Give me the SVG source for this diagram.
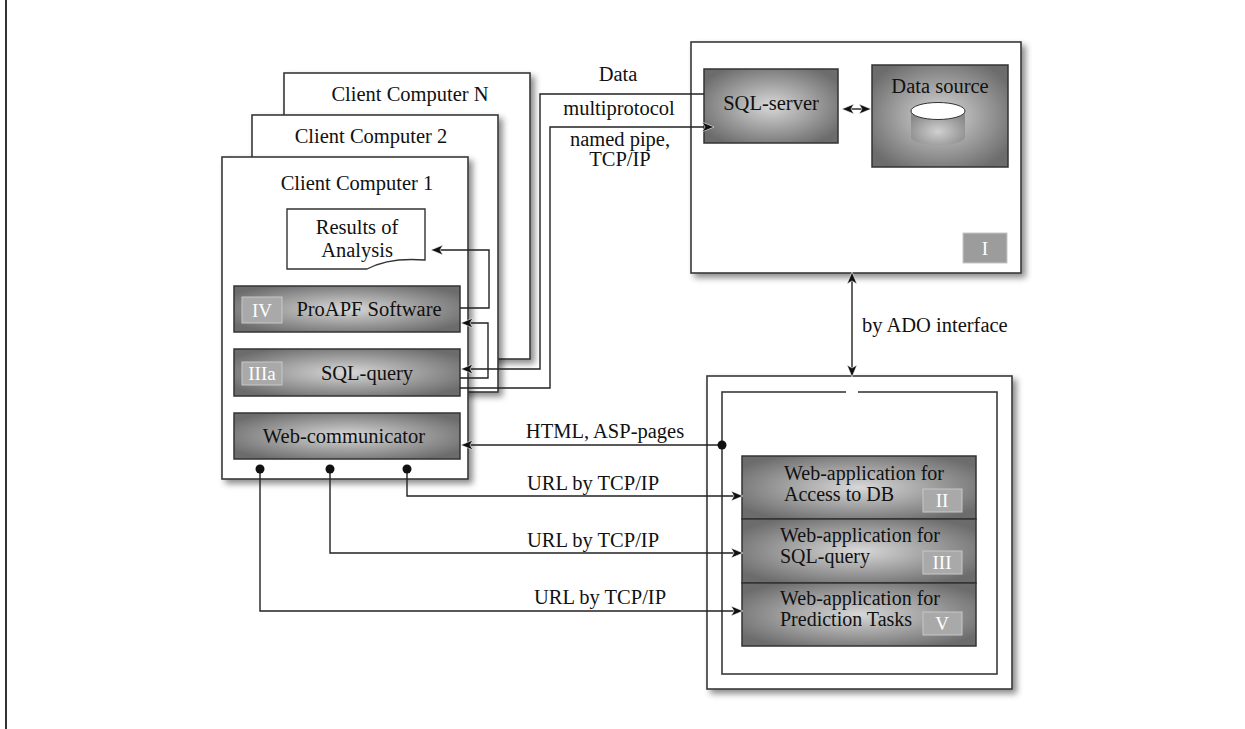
<svg xmlns="http://www.w3.org/2000/svg" width="1245" height="729" viewBox="0 0 1245 729">
<style>
text{font-family:"Liberation Serif","Times New Roman",serif;fill:#111;font-size:20.5px}
.c{text-anchor:middle}
.sm{font-size:20px}
.badgeT{fill:#fff;font-size:19px;text-anchor:middle}
.frame{fill:#fff;stroke:#3a3a3a;stroke-width:1.6}
.dark{fill:url(#rg);stroke:#333;stroke-width:1.5}
.badge{fill:#a9a9a9;stroke:#c8c8c8;stroke-width:1}
.ln{fill:none;stroke:#222;stroke-width:1.4}
.halo{fill:none;stroke:#fff;stroke-width:4}
</style>
<defs>
<radialGradient id="rg" cx="0.5" cy="0.5" r="0.6">
<stop offset="0" stop-color="#d8d8d8"/>
<stop offset="1" stop-color="#6c6c6c"/>
</radialGradient>
<radialGradient id="cyl" cx="0.5" cy="0.6" r="0.6">
<stop offset="0" stop-color="#d0d0d0"/>
<stop offset="1" stop-color="#8a8a8a"/>
</radialGradient>
<filter id="sh" x="-10%" y="-10%" width="130%" height="130%">
<feDropShadow dx="4" dy="4" stdDeviation="3" flood-color="#000" flood-opacity="0.45"/>
</filter>
<marker id="ah" viewBox="0 0 12 10" refX="11" refY="5" markerWidth="12" markerHeight="10" markerUnits="userSpaceOnUse" orient="auto-start-reverse">
<path d="M0,0 L12,5 L0,10 L3,5 Z" fill="#111" stroke="#fff" stroke-width="0.6"/>
</marker>
<marker id="dot" viewBox="0 0 10 10" refX="5" refY="5" markerWidth="10" markerHeight="10" markerUnits="userSpaceOnUse">
<circle cx="5" cy="5" r="4.5" fill="#111"/>
</marker>
</defs>
<rect width="1245" height="729" fill="#fff"/>
<line x1="6" y1="0" x2="6" y2="729" stroke="#333" stroke-width="2"/>

<g id="clientN">
<rect class="frame" x="284" y="73" width="246" height="286" filter="url(#sh)"/>
<text class="c" x="410" y="101">Client Computer N</text>
</g>
<g id="client2">
<rect class="frame" x="252" y="115" width="246" height="277" filter="url(#sh)"/>
<text class="c" x="371" y="143">Client Computer 2</text>
</g>
<g id="client1">
<rect class="frame" x="222" y="157" width="246" height="322" filter="url(#sh)"/>
<text class="c" x="357" y="190">Client Computer 1</text>
</g>
<g id="results">
<path d="M287,209 H425 V260 C400,258 380,262 367,269 H287 Z" fill="#fff" stroke="#333" stroke-width="1.4"/>
<text class="c" x="357" y="234">Results of</text>
<text class="c" x="357" y="257">Analysis</text>
</g>
<g id="proapf">
<rect class="dark" x="234" y="286" width="226" height="46"/>
<rect class="badge" x="242" y="297" width="40" height="26"/>
<text class="badgeT" x="262" y="317">IV</text>
<text class="c" x="369" y="316">ProAPF Software</text>
</g>
<g id="sqlquery">
<rect class="dark" x="234" y="349" width="226" height="47"/>
<rect class="badge" x="242" y="362" width="40" height="23"/>
<text class="badgeT" x="262" y="380">IIIa</text>
<text class="c" x="367" y="380">SQL-query</text>
</g>
<g id="webcomm">
<rect class="dark" x="234" y="413" width="226" height="46"/>
<text class="c" x="344" y="443">Web-communicator</text>
</g>

<g id="server">
<rect class="frame" x="691" y="42" width="330" height="231" filter="url(#sh)"/>
<rect class="badge" x="963" y="233" width="44" height="30" style="fill:#9c9c9c"/>
<text class="badgeT" x="985" y="255">I</text>
</g>
<g id="sqlserver">
<rect class="dark" x="704" y="69" width="134" height="74"/>
<text class="c" x="771" y="110">SQL-server</text>
</g>
<g id="datasource">
<rect class="dark" x="872" y="65" width="136" height="102"/>
<text class="c" x="940" y="93">Data source</text>
<path d="M911,111 V137 A27,8 0 0 0 965,137 V111 Z" fill="url(#cyl)"/>
<ellipse cx="938" cy="111" rx="27" ry="8.5" fill="#fff" stroke="#333" stroke-width="1"/>
</g>

<g id="webserver">
<rect class="frame" x="707" y="376" width="305" height="313" filter="url(#sh)"/>
<rect x="722" y="392" width="275" height="282" fill="none" stroke="#3a3a3a" stroke-width="1.6"/>
</g>
<g id="webapp1">
<rect class="dark" x="742" y="456" width="234" height="63"/>
<text class="sm" x="784" y="480">Web-application for</text>
<text class="sm" x="784" y="501">Access to DB</text>
<rect class="badge" x="923" y="489" width="39" height="23"/>
<text class="badgeT" x="942" y="507">II</text>
</g>
<g id="webapp2">
<rect class="dark" x="742" y="519" width="234" height="64"/>
<text class="sm" x="780" y="542">Web-application for</text>
<text class="sm" x="780" y="563">SQL-query</text>
<rect class="badge" x="923" y="551" width="39" height="23"/>
<text class="badgeT" x="942" y="569">III</text>
</g>
<g id="webapp3">
<rect class="dark" x="742" y="583" width="234" height="63"/>
<text class="sm" x="780" y="605">Web-application for</text>
<text class="sm" x="780" y="626">Prediction Tasks</text>
<rect class="badge" x="923" y="612" width="39" height="23"/>
<text class="badgeT" x="942" y="630">V</text>
</g>

<g id="connectors">
<path class="ln" d="M460,308 H489 V250 H432" marker-end="url(#ah)"/>
<path class="ln" d="M460,378 H488 V323 H462" marker-end="url(#ah)"/>
<path class="ln" d="M704,94 H540 V369 H462" marker-end="url(#ah)"/>
<path class="ln" d="M460,388 H550 V127 H713" marker-end="url(#ah)"/>
<path class="ln" d="M843,109 H870" marker-start="url(#ah)" marker-end="url(#ah)"/>
<path class="halo" d="M846,392 H858"/>
<path class="ln" d="M852,273 V376" marker-start="url(#ah)" marker-end="url(#ah)"/>
<path class="ln" d="M722,445 H462" marker-start="url(#dot)" marker-end="url(#ah)"/>
<path class="ln" d="M407,469 V496 H742" marker-start="url(#dot)" marker-end="url(#ah)"/>
<path class="ln" d="M330,469 V553 H742" marker-start="url(#dot)" marker-end="url(#ah)"/>
<path class="ln" d="M260,469 V611 H742" marker-start="url(#dot)" marker-end="url(#ah)"/>
</g>

<g id="labels">
<text class="c" x="618" y="81">Data</text>
<text class="c" x="619" y="115">multiprotocol</text>
<text class="c" x="620" y="146">named pipe,</text>
<text class="c" x="620" y="166">TCP/IP</text>
<text x="862" y="332">by ADO interface</text>
<text class="c" x="605" y="438">HTML, ASP-pages</text>
<text class="c" x="593" y="490">URL by TCP/IP</text>
<text class="c" x="593" y="547">URL by TCP/IP</text>
<text class="c" x="600" y="604">URL by TCP/IP</text>
</g>
</svg>
